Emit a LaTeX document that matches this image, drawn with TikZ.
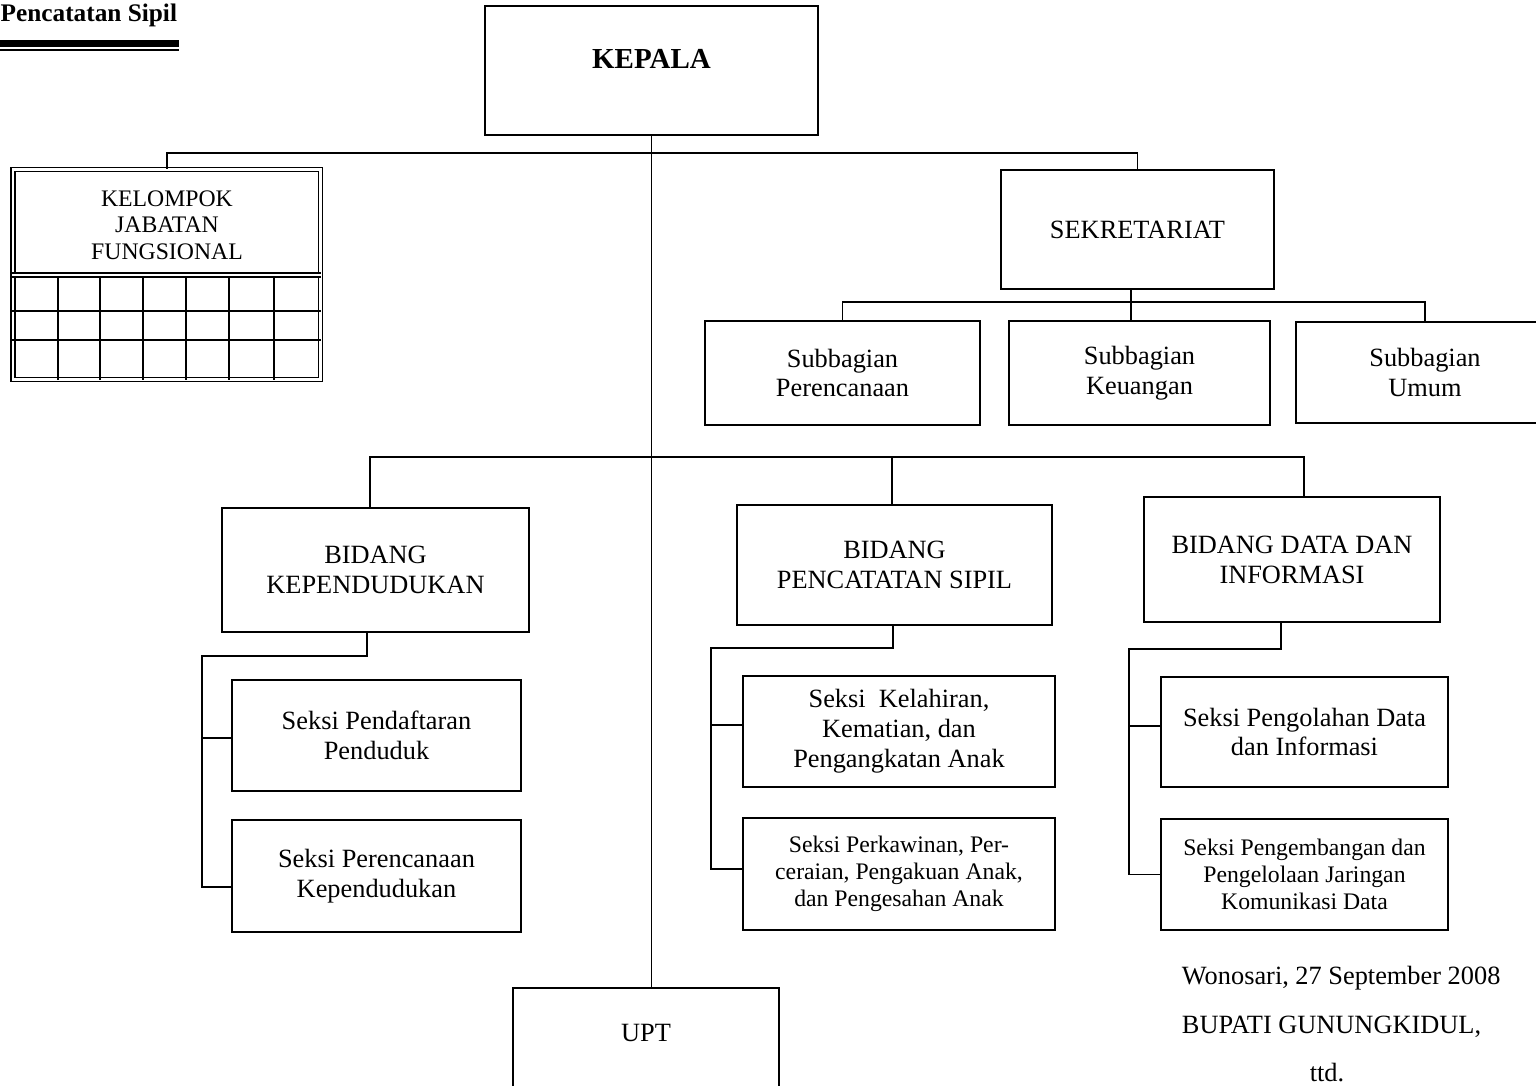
\documentclass[tikz,border=0pt]{standalone}
\usepackage{fontspec}
\setmainfont{Liberation Serif}
\usepackage{tikz}
\usetikzlibrary{positioning}

\begin{document}
\begin{tikzpicture}[x=0.02cm, y=-0.02cm, line width=1.1pt]

	\def\px{0.02cm}
	% Stile
	\tikzset{kotak/.style={draw, rectangle, inner sep=0pt, align=center, font=\fontsize{15}{17}\selectfont}}
	\tikzset{kecil/.style={font=\fontsize{13.5}{15.2}\selectfont}}
	\tikzset{ganda/.style={double, double distance=1.6pt, line width=0.8pt}}

	% Rahmen
	\clip (0,0) rectangle (1536,1086);

	% Kopfzeile
	\node[anchor=base east, inner sep=0pt, font=\bfseries\fontsize{14.4}{17}\selectfont] (judul) at (178,21) {Pencatatan Sipil};
	\fill (0,39.5) rectangle (179,46.5);
	\draw[line width=0.9pt] (0,50) -- (179,50);

	% Kepala
	\node[kotak, minimum width=333*\px, minimum height=129*\px] (kepala) at (651.5,70.5) {};
	\node[font=\bfseries\fontsize{16.5}{18}\selectfont] (kepalateks) at (651.5,59) {KEPALA};

	% Kelompok Jabatan Fungsional
	\node[ganda, draw, inner sep=0pt, minimum width=307.5*\px, minimum height=210*\px] (kjf) at (166.75,274.5) {};
	\node[kecil, align=center] (kjfteks) at (167,225) {KELOMPOK\\JABATAN\\FUNGSIONAL};
	\draw[ganda] (kjf.west |- 0,275) -- (kjf.east |- 0,275);
	\foreach \y in {311,340}
		\draw[line width=0.8pt] (kjf.west |- 0,\y) -- (kjf.east |- 0,\y);
	\foreach \x in {58,100,143,186,229,274}
		\draw[line width=0.8pt] (\x,276) -- (kjf.south -| \x,0);

	% Sekretariat
	\node[kotak, minimum width=273*\px, minimum height=119*\px] (sekr) at (1137.5,229.5) {SEKRETARIAT};
	\node[kotak, minimum width=275*\px, minimum height=104*\px] (sbPer) at (842.5,373) {Subbagian\\Perencanaan};
	\node[kotak, minimum width=261*\px, minimum height=104*\px] (sbKeu) at (1139.5,373) {Subbagian\\Keuangan};
	\node[kotak, minimum width=258*\px, minimum height=101*\px] (sbUmum) at (1425,372.5) {Subbagian\\Umum};

	% Bidang
	\node[kotak, minimum width=307*\px, minimum height=124*\px] (bidK) at (375.5,570) {BIDANG\\KEPENDUDUKAN};
	\node[kotak, minimum width=315*\px, minimum height=120*\px] (bidP) at (894.5,565) {BIDANG\\PENCATATAN SIPIL};
	\node[kotak, minimum width=296*\px, minimum height=125*\px] (bidD) at (1292,559.5) {BIDANG DATA DAN\\INFORMASI};

	% Seksi
	\node[kotak, minimum width=289*\px, minimum height=111*\px] (sPend) at (376.5,735.5) {Seksi Pendaftaran\\Penduduk};
	\node[kotak, minimum width=289*\px, minimum height=112*\px] (sRen) at (376.5,876) {Seksi Perencanaan\\Kependudukan};
	\node[kotak, minimum width=312*\px, minimum height=111*\px] (sLahir) at (899,731.5) {Seksi~ Kelahiran,\\Kematian, dan\\Pengangkatan Anak};
	\node[kotak, kecil, minimum width=312*\px, minimum height=112*\px] (sKawin) at (899,874) {Seksi Perkawinan, Per-\\ceraian, Pengakuan Anak,\\dan Pengesahan Anak};
	\node[kotak, minimum width=287*\px, minimum height=110*\px] (sOlah) at (1304.5,732) {Seksi Pengolahan Data\\dan Informasi};
	\node[kotak, kecil, minimum width=287*\px, minimum height=111*\px] (sKembang) at (1304.5,874.5) {Seksi Pengembangan dan\\Pengelolaan Jaringan\\Komunikasi Data};

	% UPT
	\node[kotak, minimum width=266*\px, minimum height=144*\px] (upt) at (646,1060) {};
	\node[font=\fontsize{15}{17}\selectfont] (uptteks) at (646,1033) {UPT};

	% Linien
	\coordinate (busA) at (651.5,153);
	\coordinate (busB) at (1131,302);
	\coordinate (busC) at (651.5,457);
	\coordinate (pTop) at ([xshift=-2.5*\px]bidP.north);
	\draw (kepala.south) -- (kepala.south |- upt.north);
	\draw (kjf.north) |- (busA) -| (sekr.north);
	\draw (sekr.south -| busB) -- (sbKeu.north -| busB);
	\draw (sbPer.north) |- (busB) -| (sbUmum.north);
	\draw ([xshift=-5.5*\px]bidK.north) |- (busC) -| ([xshift=12*\px]bidD.north);
	\draw (pTop |- busC) -- (pTop);

	% Seksi-Linien
	\coordinate (kL) at (202,656);
	\coordinate (pL) at (711,648);
	\coordinate (dL) at (1129,649);
	\draw ([xshift=-8.5*\px]bidK.south) |- (kL) |- ([yshift=-2.5*\px]sPend.west);
	\draw (kL) |- ([yshift=-11*\px]sRen.west);
	\draw ([xshift=-1.5*\px]bidP.south) |- (pL) |- ([yshift=6.5*\px]sLahir.west);
	\draw (pL) |- ([yshift=5*\px]sKawin.west);
	\draw ([xshift=-11*\px]bidD.south) |- (dL) |- ([yshift=6*\px]sOlah.west);
	\draw (dL) |- (sKembang.west);

	% Unterschrift
	\node[anchor=west, inner sep=0pt, font=\fontsize{15}{17}\selectfont] (tempat) at (1181,978) {Wonosari, 27 September 2008};
	\node[anchor=west, inner sep=0pt, font=\fontsize{15}{17}\selectfont] (bupati) at (1181,1027) {BUPATI GUNUNGKIDUL,};
	\node[font=\fontsize{15}{17}\selectfont] (ttd) at (1327,1073) {ttd.};
\end{tikzpicture}
\end{document}
